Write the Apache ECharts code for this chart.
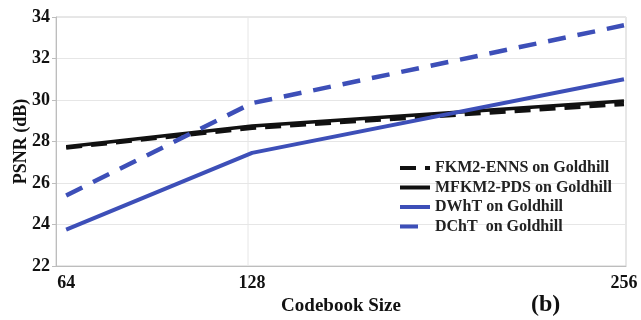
<!DOCTYPE html>
<html><head><meta charset="utf-8">
<script src="https://cdn.jsdelivr.net/npm/echarts@6/dist/echarts.min.js"></script>
<style>html,body{margin:0;padding:0;background:#fff}#c{width:641px;height:320px}</style>
</head><body><div id="c"></div>
<script>
const codebookSizes = [64, 128, 256];
const xTickLabels = [64, 128, 256];
const fkm2enns = [27.7, 28.65, 29.8];
const mfkm2pds = [27.75, 28.75, 29.95];
const dwht = [23.75, 27.45, 31.0];
const dcht = [25.4, 29.85, 33.6];
const seriesNames = ['FKM2-ENNS on Goldhill', 'MFKM2-PDS on Goldhill', 'DWhT on Goldhill', 'DChT  on Goldhill'];

const pair = arr => codebookSizes.map((x, i) => [x, arr[i]]);
const font = '"Liberation Serif", "DejaVu Serif", serif';
const blue = '#3d4fb8';
const black = '#111111';

const chart = echarts.init(document.getElementById('c'));
chart.setOption({
  animation: false,
  textStyle: { fontFamily: font },
  grid: { left: 56, right: 15, top: 17, bottom: 54, show: true, borderColor: '#cfcfcf', borderWidth: 1,
          containLabel: false, outerBoundsMode: 'none' },
  xAxis: {
    type: 'value', min: 60.5, max: 256.7,
    axisLine: { show: true, lineStyle: { color: '#bdbdbd' } },
    axisTick: { show: false },
    splitLine: { show: false },
    axisLabel: { customValues: xTickLabels, color: '#111', fontWeight: 'bold', fontSize: 18, fontFamily: font, margin: 8 },
    name: 'Codebook Size', nameLocation: 'middle', nameGap: 31,
    nameTextStyle: { color: '#111', fontWeight: 'bold', fontSize: 19, fontFamily: font }
  },
  yAxis: {
    type: 'value', min: 22, max: 34, interval: 2,
    axisLine: { show: true, lineStyle: { color: '#bdbdbd' } },
    axisTick: { show: true, length: 4, lineStyle: { color: '#bdbdbd' } },
    splitLine: { show: true, lineStyle: { color: '#e6e6e6' } },
    axisLabel: { color: '#111', fontWeight: 'bold', fontSize: 18, fontFamily: font, margin: 6 },
    name: 'PSNR (dB)', nameLocation: 'middle', nameGap: 26, nameMoveOverlap: false,
    nameTextStyle: { color: '#111', fontWeight: 'bold', fontSize: 18, fontFamily: font }
  },
  graphic: [
    { type: 'line', shape: { x1: 248, y1: 17, x2: 248, y2: 266 }, style: { stroke: '#e6e6e6', lineWidth: 1 }, z: 0 },
    { type: 'text', left: 531, top: 293, style: { text: '(b)', font: 'bold 24px ' + font, fill: '#111' } }
  ],
  legend: {
    orient: 'vertical', left: 393, top: 155, itemWidth: 30, itemHeight: 4, itemGap: 3.5,
    itemStyle: { opacity: 0 },
    lineStyle: { width: 4 },
    textStyle: { fontFamily: font, fontWeight: 'bold', fontSize: 16, color: '#222' },
    data: seriesNames
  },
  series: [
    { name: seriesNames[0], type: 'line', data: pair(fkm2enns), symbol: 'none', z: 3,
      lineStyle: { color: black, width: 4, type: [16, 9] }, itemStyle: { color: black } },
    { name: seriesNames[1], type: 'line', data: pair(mfkm2pds), symbol: 'none', z: 3,
      lineStyle: { color: black, width: 3.5 }, itemStyle: { color: black } },
    { name: seriesNames[2], type: 'line', data: pair(dwht), symbol: 'none', z: 4,
      lineStyle: { color: blue, width: 4 }, itemStyle: { color: blue } },
    { name: seriesNames[3], type: 'line', data: pair(dcht), symbol: 'none', z: 4,
      lineStyle: { color: blue, width: 4.5, type: [18, 12] }, itemStyle: { color: blue } }
  ]
});
</script></body></html>
